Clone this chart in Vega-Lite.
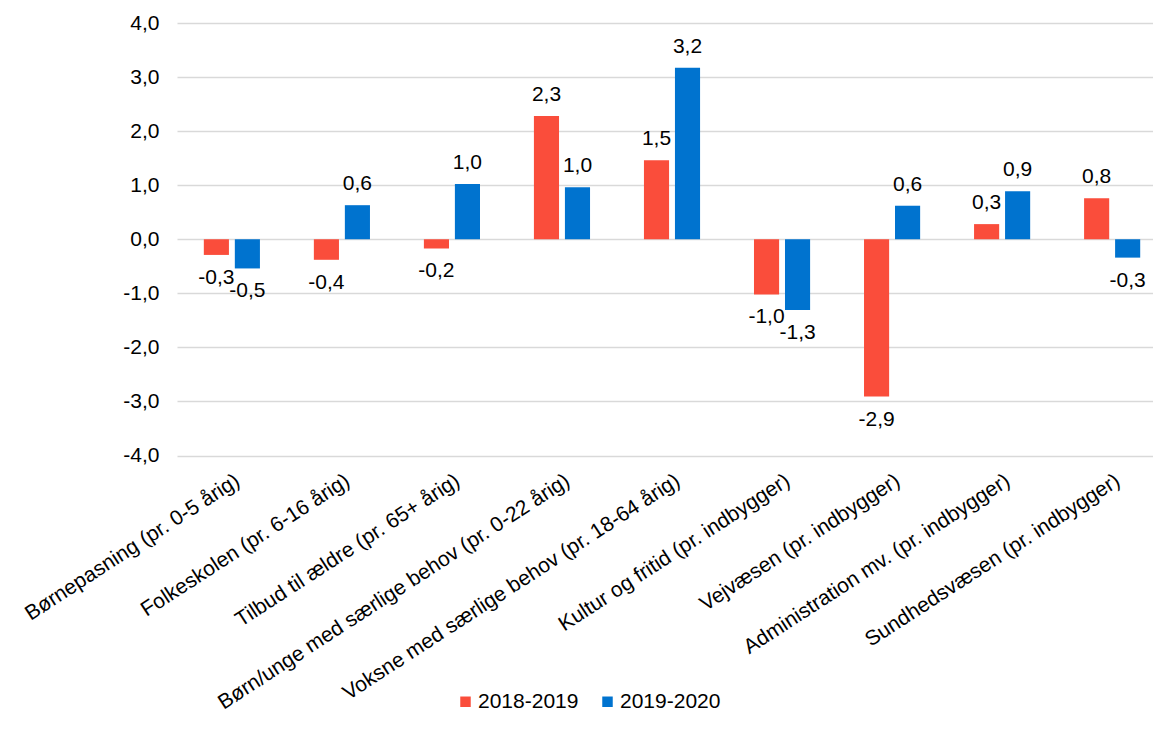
{
  "$schema": "https://vega.github.io/schema/vega-lite/v6.json",
  "width": 976,
  "height": 432.5,
  "autosize": "none",
  "padding": {"left": 177, "top": 23, "right": 0, "bottom": 273.5},
  "background": "#ffffff",
  "config": {
    "view": {"stroke": null},
    "font": "Liberation Sans",
    "locale": {"number": {"decimal": ",", "thousands": ".", "grouping": [3], "currency": ["", " kr."], "minus": "-"}},
    "axis": {"labelFont": "Liberation Sans", "labelColor": "#000000", "labelFontSize": 21}
  },
  "data": {
    "values": [
      {"kategori": "Børnepasning (pr. 0-5 årig)", "periode": "2018-2019", "vaerdi": -0.29},
      {"kategori": "Børnepasning (pr. 0-5 årig)", "periode": "2019-2020", "vaerdi": -0.54},
      {"kategori": "Folkeskolen (pr. 6-16 årig)", "periode": "2018-2019", "vaerdi": -0.38},
      {"kategori": "Folkeskolen (pr. 6-16 årig)", "periode": "2019-2020", "vaerdi": 0.63},
      {"kategori": "Tilbud til ældre (pr. 65+ årig)", "periode": "2018-2019", "vaerdi": -0.17},
      {"kategori": "Tilbud til ældre (pr. 65+ årig)", "periode": "2019-2020", "vaerdi": 1.02},
      {"kategori": "Børn/unge med særlige behov (pr. 0-22 årig)", "periode": "2018-2019", "vaerdi": 2.28},
      {"kategori": "Børn/unge med særlige behov (pr. 0-22 årig)", "periode": "2019-2020", "vaerdi": 0.96},
      {"kategori": "Voksne med særlige behov (pr. 18-64 årig)", "periode": "2018-2019", "vaerdi": 1.46},
      {"kategori": "Voksne med særlige behov (pr. 18-64 årig)", "periode": "2019-2020", "vaerdi": 3.17},
      {"kategori": "Kultur og fritid (pr. indbygger)", "periode": "2018-2019", "vaerdi": -1.02},
      {"kategori": "Kultur og fritid (pr. indbygger)", "periode": "2019-2020", "vaerdi": -1.31},
      {"kategori": "Vejvæsen (pr. indbygger)", "periode": "2018-2019", "vaerdi": -2.91},
      {"kategori": "Vejvæsen (pr. indbygger)", "periode": "2019-2020", "vaerdi": 0.62},
      {"kategori": "Administration mv. (pr. indbygger)", "periode": "2018-2019", "vaerdi": 0.28},
      {"kategori": "Administration mv. (pr. indbygger)", "periode": "2019-2020", "vaerdi": 0.89},
      {"kategori": "Sundhedsvæsen (pr. indbygger)", "periode": "2018-2019", "vaerdi": 0.76},
      {"kategori": "Sundhedsvæsen (pr. indbygger)", "periode": "2019-2020", "vaerdi": -0.34}
    ]
  },
  "encoding": {
    "x": {
      "field": "kategori", "type": "nominal", "sort": null,
      "scale": {"paddingInner": 0.49, "paddingOuter": 0.18, "align": 0.677},
      "axis": {"title": null, "labelAngle": -33, "domain": false, "ticks": false, "tickSize": 0, "labelPadding": 14, "labelLimit": 0, "grid": false}
    },
    "xOffset": {"field": "periode", "type": "nominal", "sort": ["2018-2019", "2019-2020"], "scale": {"paddingInner": 0.19, "paddingOuter": 0}},
    "y": {
      "field": "vaerdi", "type": "quantitative",
      "scale": {"domain": [-4, 4], "nice": false, "zero": false},
      "axis": {"title": null, "values": [-4, -3, -2, -1, 0, 1, 2, 3, 4], "format": ".1f", "domain": false, "ticks": false, "tickSize": 0, "labelPadding": 18, "grid": true, "gridColor": "#d9d9d9", "gridWidth": 1.5}
    }
  },
  "layer": [
    {
      "mark": {"type": "bar"},
      "encoding": {
        "color": {
          "field": "periode", "type": "nominal",
          "scale": {"domain": ["2018-2019", "2019-2020"], "range": ["#fa4d3b", "#0073cf"]},
          "legend": {"title": null, "orient": "none", "legendX": 278, "legendY": 668, "direction": "horizontal", "symbolType": "square", "symbolSize": 110, "symbolStrokeWidth": 0, "labelFontSize": 21, "labelColor": "#000000", "labelOffset": 2, "columnPadding": 18}
        }
      }
    },
    {
      "transform": [{"filter": "datum.vaerdi >= 0"}],
      "mark": {"type": "text", "baseline": "alphabetic", "dy": -15, "fontSize": 21, "color": "#000000"},
      "encoding": {"text": {"field": "vaerdi", "type": "quantitative", "format": ".1f"}}
    },
    {
      "transform": [{"filter": "datum.vaerdi < 0"}],
      "mark": {"type": "text", "baseline": "top", "dy": 12, "fontSize": 21, "color": "#000000"},
      "encoding": {"text": {"field": "vaerdi", "type": "quantitative", "format": ".1f"}}
    }
  ]
}
